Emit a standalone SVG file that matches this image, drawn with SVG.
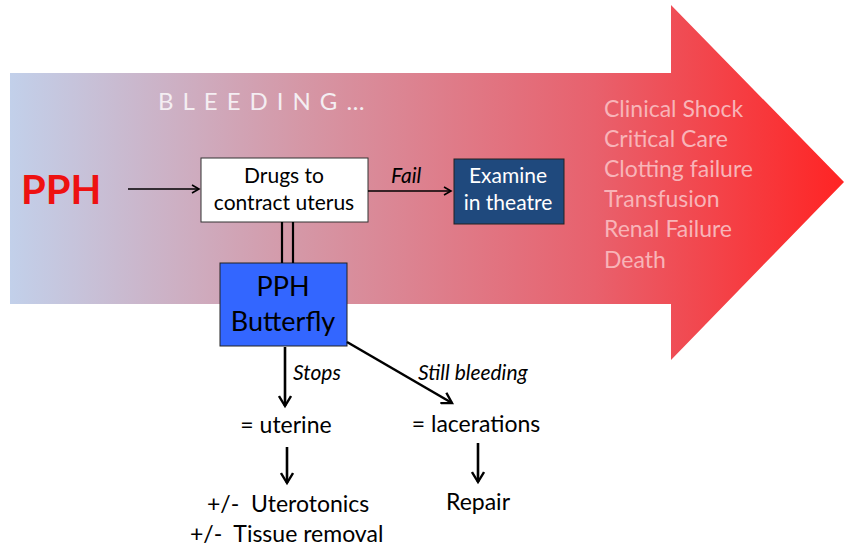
<svg xmlns="http://www.w3.org/2000/svg" width="844" height="549" viewBox="0 0 844 549">
<defs>
<linearGradient id="g" x1="10" y1="0" x2="844" y2="0" gradientUnits="userSpaceOnUse">
<stop offset="0" stop-color="#c2d0ea"/>
<stop offset="0.35" stop-color="#d597a6"/>
<stop offset="0.7" stop-color="#e8616d"/>
<stop offset="1" stop-color="#ff2424"/>
</linearGradient>
<marker id="ah" markerWidth="10" markerHeight="10" refX="8" refY="5" orient="auto" markerUnits="userSpaceOnUse">
<path d="M1,1 L8,5 L1,9" fill="none" stroke="#000" stroke-width="1.6"/>
</marker>
<marker id="ah2" markerWidth="14" markerHeight="14" refX="11" refY="7" orient="auto" markerUnits="userSpaceOnUse">
<path d="M1,1 L11,7 L1,13" fill="none" stroke="#000" stroke-width="2.4"/>
</marker>
</defs>
<style>
text{font-family:Lato,"Open Sans","Liberation Sans",sans-serif}
.bx{font-size:21px;text-anchor:middle}
.lst{font-size:23px;fill:#f8b4b8}
.lbl{font-size:21px;font-style:italic}
.bt{font-size:23px;text-anchor:middle}
.ln{stroke:#000;fill:none}
</style>
<g id="bigarrow">
<path d="M10,73 L671,73 L671,5 L844,182 L671,360 L671,304 L10,304 Z" fill="url(#g)"/>
<text x="158" y="110" font-size="24" fill="#f4eef2" letter-spacing="9">BLEEDING…</text>
</g>
<g id="pph"><text x="21" y="204" font-size="40" font-weight="bold" fill="#ee1111">PPH</text></g>
<g id="drugs">
<rect x="201" y="158" width="167" height="64" fill="#fff" stroke="#333" stroke-width="1"/>
<text class="bx" x="284" y="183">Drugs to</text>
<text class="bx" x="284" y="210">contract uterus</text>
</g>
<g id="examine">
<rect x="454" y="159" width="110" height="65" fill="#1f497d" stroke="#222" stroke-width="1"/>
<text class="bx" x="508" y="183" fill="#fff">Examine</text>
<text class="bx" x="508" y="210" fill="#fff">in theatre</text>
</g>
<g id="butterfly">
<rect x="220" y="263" width="127" height="83" fill="#3366ff" stroke="#222" stroke-width="1"/>
<text x="283" y="296" font-size="27" text-anchor="middle">PPH</text>
<text x="283" y="331" font-size="27" text-anchor="middle">Butterfly</text>
</g>
<g id="outcomes">
<text class="lst" x="604" y="117">Clinical Shock</text>
<text class="lst" x="604" y="147">Critical Care</text>
<text class="lst" x="604" y="177">Clotting failure</text>
<text class="lst" x="604" y="207">Transfusion</text>
<text class="lst" x="604" y="237">Renal Failure</text>
<text class="lst" x="604" y="268">Death</text>
</g>
<g id="uterine"><text class="bt" x="286" y="433">= uterine</text></g>
<g id="lacerations"><text class="bt" x="476" y="432">= lacerations</text></g>
<g id="treat">
<text x="207" y="512" font-size="23" xml:space="preserve">+/-  Uterotonics</text>
<text x="190" y="542" font-size="23" xml:space="preserve">+/-  Tissue removal</text>
</g>
<g id="repair"><text class="bt" x="478" y="510">Repair</text></g>
<g id="connectors">
<line class="ln" x1="128" y1="189" x2="199" y2="189" stroke-width="1.6" marker-end="url(#ah)"/>
<line class="ln" x1="368" y1="191" x2="451" y2="191" stroke-width="1.6" marker-end="url(#ah)"/>
<text class="lbl" x="391" y="183">Fail</text>
<line class="ln" x1="282" y1="222" x2="282" y2="263" stroke-width="2.2"/>
<line class="ln" x1="293" y1="222" x2="293" y2="263" stroke-width="2.2"/>
<line class="ln" x1="285" y1="347" x2="285" y2="406" stroke-width="2.6" marker-end="url(#ah2)"/>
<text class="lbl" x="293" y="380">Stops</text>
<line class="ln" x1="347" y1="342" x2="452" y2="403" stroke-width="2.6" marker-end="url(#ah2)"/>
<text class="lbl" x="418" y="380">Still bleeding</text>
<line class="ln" x1="287" y1="447" x2="287" y2="483" stroke-width="2.6" marker-end="url(#ah2)"/>
<line class="ln" x1="478" y1="443" x2="478" y2="482" stroke-width="2.6" marker-end="url(#ah2)"/>
</g>
</svg>
